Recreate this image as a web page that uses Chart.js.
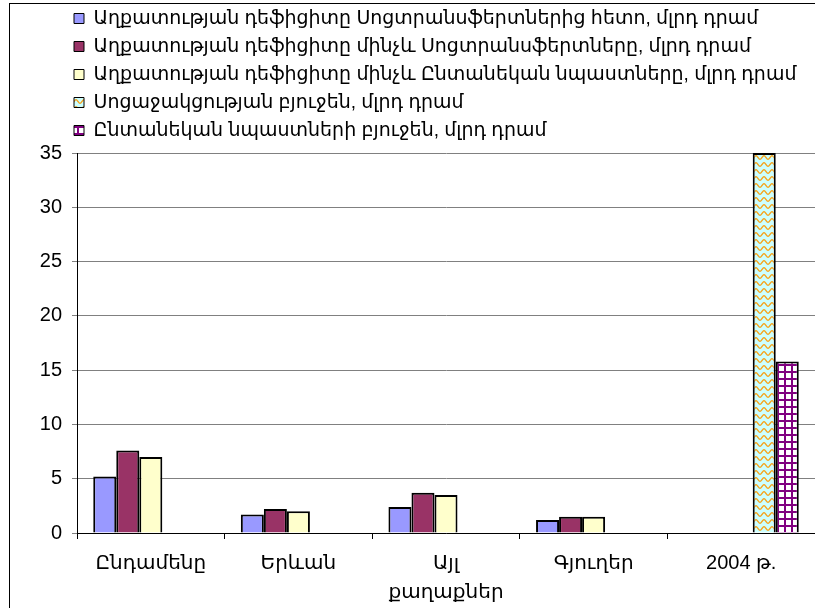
<!DOCTYPE html>
<html lang="hy">
<head>
    <meta charset="UTF-8">
    <title>Աղքատության դեֆիցիտ</title>
    <style>
        body {
            margin: 0;
            padding: 0;
            background-color: white;
        }
        canvas {
            display: block;
        }
    </style>
    <script src="https://cdn.jsdelivr.net/npm/chart.js"></script>
</head>
<body>
<canvas id="chart" width="815" height="608"></canvas>
<script>
    // Տվյալներ
    const categories = ['Ընդամենը', 'Երևան', ['Այլ', 'քաղաքներ'], 'Գյուղեր', '2004 թ.'];
    const seriesNames = [
        'Աղքատության դեֆիցիտը Սոցտրանսֆերտներից հետո, մլրդ դրամ',
        'Աղքատության դեֆիցիտը մինչև Սոցտրանսֆերտները, մլրդ դրամ',
        'Աղքատության դեֆիցիտը մինչև Ընտանեկան նպաստները, մլրդ դրամ',
        'Սոցաջակցության բյուջեն, մլրդ դրամ',
        'Ընտանեկան նպաստների բյուջեն, մլրդ դրամ'
    ];
    const deficitAfter = [5.2, 1.7, 2.4, 1.2, null];
    const deficitBefore = [7.6, 2.2, 3.7, 1.5, null];
    const deficitBeforeFamily = [7.0, 2.0, 3.5, 1.5, null];
    const socialBudget = [null, null, null, null, 35];
    const familyBudget = [null, null, null, null, 15.8];
    const yTicks = [0, 5, 10, 15, 20, 25, 30, 35];

    const FONT = "'Liberation Sans', 'DejaVu Sans', sans-serif";

    // hatch patterns (wavy lines, grid)
    function wavePattern() {
        const c = document.createElement('canvas');
        c.width = 8; c.height = 7;
        const g = c.getContext('2d');
        g.fillStyle = '#ccffff';
        g.fillRect(0, 0, 8, 7);
        g.strokeStyle = '#f7a21b';
        g.lineWidth = 1.3;
        g.beginPath();
        for (let x = 0; x <= 8; x += 0.5) {
            const y = 3.5 + 1.8 * Math.cos(x / 8 * Math.PI * 2);
            if (x === 0) g.moveTo(x, y); else g.lineTo(x, y);
        }
        g.stroke();
        return g.createPattern(c, 'repeat');
    }
    function gridPattern() {
        const c = document.createElement('canvas');
        c.width = 7; c.height = 7;
        const g = c.getContext('2d');
        g.fillStyle = '#ffffff';
        g.fillRect(0, 0, 7, 7);
        g.fillStyle = '#800080';
        g.fillRect(0, 0, 7, 2);
        g.fillRect(0, 0, 2, 7);
        return g.createPattern(c, 'repeat');
    }

    const fills = ['#9999ff', '#993366', '#ffffcc', wavePattern(), gridPattern()];
    const values = [deficitAfter, deficitBefore, deficitBeforeFamily, socialBudget, familyBudget];

    const frame = {
        id: 'frame',
        beforeDraw(chart) {
            const ctx = chart.ctx;
            ctx.save();
            ctx.fillStyle = '#fff';
            ctx.fillRect(0, 0, chart.width, chart.height);
            ctx.strokeStyle = '#000';
            ctx.lineWidth = 1;
            ctx.strokeRect(9.5, 3.5, 2000, 2000);
            ctx.restore();
        },
        afterLayout(chart) {
            // legend starts above the plot, not at the canvas edge
            chart.legend.left = 65;
            chart.legend.top = 0;
        }
    };

    new Chart(document.getElementById('chart'), {
        type: 'bar',
        data: {
            labels: categories,
            datasets: values.map((v, i) => ({
                label: seriesNames[i],
                data: v,
                backgroundColor: fills[i],
                borderColor: '#000',
                borderWidth: 2,
                categoryPercentage: 0.78,
                barPercentage: 1
            }))
        },
        options: {
            responsive: false,
            animation: false,
            devicePixelRatio: 1,
            layout: { padding: { top: 3, left: 0, right: 0, bottom: 0 } },
            plugins: {
                tooltip: { enabled: false },
                legend: {
                    position: 'top',
                    align: 'start',
                    labels: {
                        color: '#000',
                        font: { family: FONT, size: 19 },
                        boxWidth: 10,
                        boxHeight: 10,
                        padding: 9,
                        generateLabels: chart => Chart.defaults.plugins.legend.labels.generateLabels(chart)
                            .map(l => Object.assign(l, { lineWidth: 1 }))
                    }
                }
            },
            scales: {
                x: {
                    grid: { offset: true, drawOnChartArea: false, color: '#000', tickLength: 6 },
                    border: { color: '#000', width: 1 },
                    ticks: {
                        color: '#000',
                        font: { family: FONT, size: 20, lineHeight: 1.45 },
                        padding: 10,
                        maxRotation: 0,
                        autoSkip: false
                    },
                    afterFit: s => { s.height = 75; }
                },
                y: {
                    min: 0,
                    max: 35,
                    afterBuildTicks: s => { s.ticks = yTicks.map(v => ({ value: v })); },
                    grid: { color: '#808080', lineWidth: 1, tickLength: 5 },
                    border: { color: '#000', width: 1 },
                    ticks: {
                        color: '#000',
                        font: { family: FONT, size: 20 },
                        padding: 10
                    },
                    afterFit: s => { s.width = 77; }
                }
            }
        },
        plugins: [frame]
    });
</script>
</body>
</html>
